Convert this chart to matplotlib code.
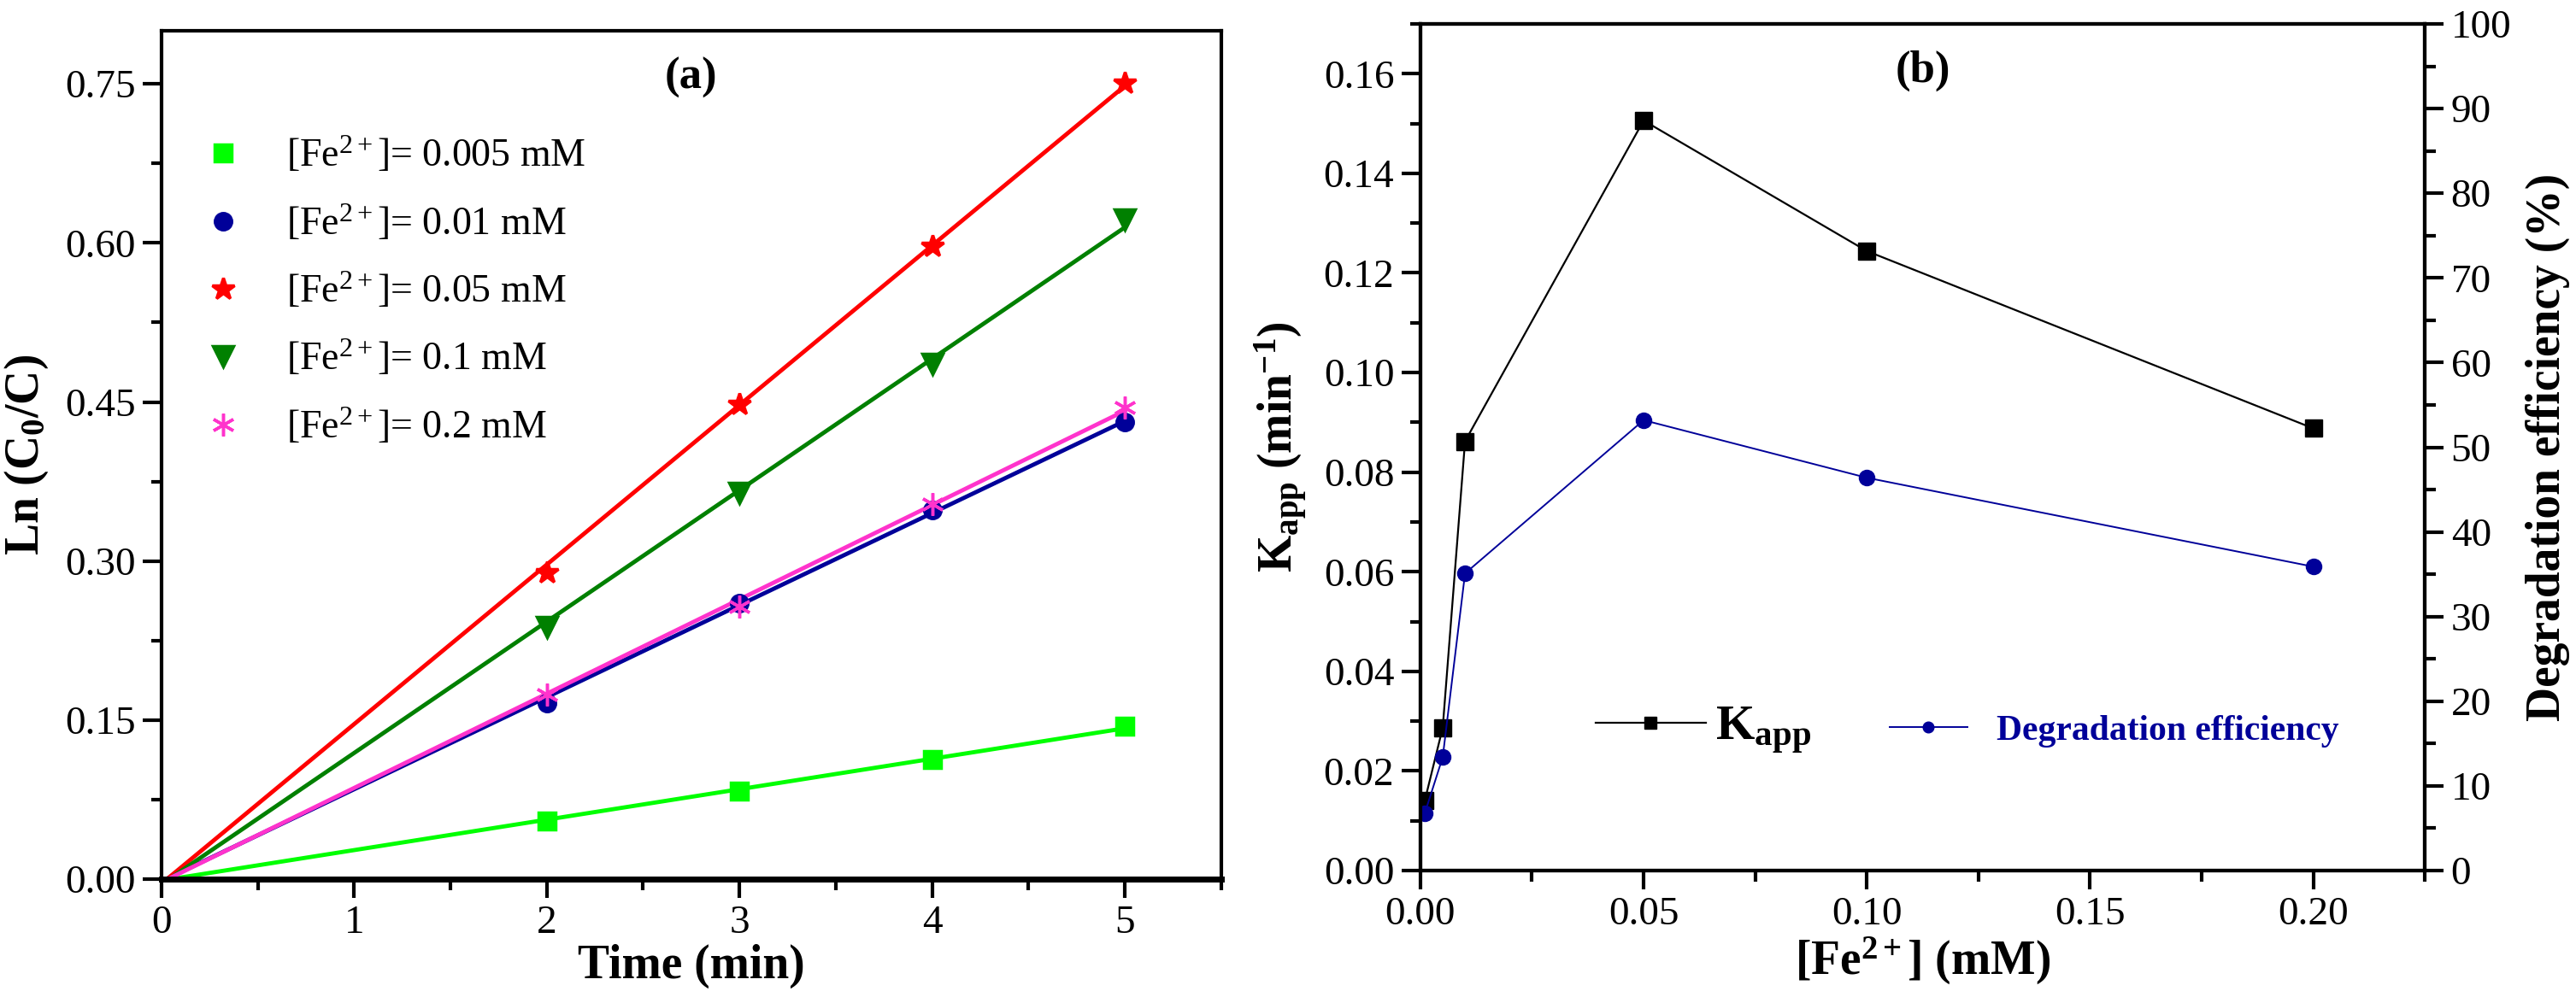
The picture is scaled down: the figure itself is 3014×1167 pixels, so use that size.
import numpy as np
import matplotlib
matplotlib.use('Agg')
from matplotlib import pyplot as plt
from matplotlib.ticker import MultipleLocator, FormatStrFormatter

plt.rcParams['font.family'] = ['Liberation Serif', 'DejaVu Serif']
plt.rcParams['mathtext.fontset'] = 'custom'
plt.rcParams['mathtext.rm'] = 'Liberation Serif'
plt.rcParams['mathtext.it'] = 'Liberation Serif:italic'
plt.rcParams['mathtext.bf'] = 'Liberation Serif:bold'

# ---------------------------------------------------------------- data (a)
time_min = [0, 2, 3, 4, 5]
fe_labels = ['0.005', '0.01', '0.05', '0.1', '0.2']
ln_005 = [0, 0.055, 0.083, 0.113, 0.144]
ln_01 = [0, 0.166, 0.260, 0.348, 0.431]
ln_05 = [0, 0.289, 0.448, 0.597, 0.751]
ln_1 = [0, 0.238, 0.364, 0.486, 0.622]
ln_2 = [0, 0.174, 0.257, 0.354, 0.445]

# ---------------------------------------------------------------- data (b)
fe_conc = [0.001, 0.005, 0.01, 0.05, 0.1, 0.2]
k_app = [0.0141, 0.0287, 0.0862, 0.1506, 0.1244, 0.0888]
deg_eff = [6.8, 13.4, 35.1, 53.2, 46.4, 35.9]

series = [ln_005, ln_01, ln_05, ln_1, ln_2]
colors = ['#00ff00', '#000099', '#ff0000', '#008000', '#ff33cc']
markers = ['s', 'o', '*', 'v', (6, 2, 0)]
msizes = [14, 14, 19, 17, 19]

fig = plt.figure(figsize=(30.14, 11.67), dpi=100)

# ------------------------------------------------------------------ panel a
ax = fig.add_axes([0.0627, 0.1183, 0.4113, 0.8507])
t = np.array(time_min, dtype=float)
for i in range(len(series)):
    y = np.array(series[i])
    p = np.polyfit(t, y, 1)
    ax.plot(t, np.polyval(p, t), color=colors[i], lw=3.5, zorder=2)
    ax.plot(t[1:], y[1:], ls='none', marker=markers[i], ms=msizes[i],
            color=colors[i], mew=2.5, zorder=3,
            label=r'[Fe$^{\mathrm{2+}}$]= ' + fe_labels[i] + ' mM')

ax.set_xlim(0, 5.5)
ax.set_ylim(0, 0.8)
ax.xaxis.set_major_locator(MultipleLocator(1))
ax.xaxis.set_minor_locator(MultipleLocator(0.5))
ax.yaxis.set_major_locator(MultipleLocator(0.15))
ax.yaxis.set_minor_locator(MultipleLocator(0.075))
ax.yaxis.set_major_formatter(FormatStrFormatter('%.2f'))
ax.set_xlabel('Time (min)', fontsize=40, fontweight='bold', labelpad=2)
ax.set_ylabel(r'Ln (C$_\mathbf{0}$/C)', fontsize=40, fontweight='bold', labelpad=12)
ax.text(0.5, 0.945, '(a)', transform=ax.transAxes, fontsize=38,
        fontweight='bold', ha='center', va='center')
leg = ax.legend(loc='upper left', bbox_to_anchor=(-0.012, 0.918), frameon=False,
                fontsize=33, handletextpad=0.6, labelspacing=0.72,
                markerscale=1.0)

# ------------------------------------------------------------------ panel b
bx = fig.add_axes([0.5514, 0.1268, 0.3899, 0.8492])
bx.plot(fe_conc, k_app, color='black', lw=1.6, marker='s', ms=15,
        label=r'K$_{\mathbf{app}}$')
bx.set_xlim(0, 0.225)
bx.set_ylim(0, 0.17)
bx.xaxis.set_major_locator(MultipleLocator(0.05))
bx.xaxis.set_minor_locator(MultipleLocator(0.025))
bx.yaxis.set_major_locator(MultipleLocator(0.02))
bx.yaxis.set_minor_locator(MultipleLocator(0.01))
bx.xaxis.set_major_formatter(FormatStrFormatter('%.2f'))
bx.yaxis.set_major_formatter(FormatStrFormatter('%.2f'))
bx.set_xlabel(r'[Fe$^{\mathbf{2+}}$] (mM)', fontsize=40, fontweight='bold', labelpad=2)
bx.set_ylabel(r'K$_{\mathbf{app}}$ (min$^{\mathbf{-1}}$)', fontsize=40,
              fontweight='bold', labelpad=12)
bx.text(0.5, 0.945, '(b)', transform=bx.transAxes, fontsize=38,
        fontweight='bold', ha='center', va='center')

bx2 = bx.twinx()
bx2.set_position(bx.get_position())
bx2.plot(fe_conc, deg_eff, color='#000099', lw=1.4, marker='o', ms=13,
         label='Degradation efficiency')
bx2.set_ylim(0, 100)
bx2.yaxis.set_major_locator(MultipleLocator(10))
bx2.yaxis.set_minor_locator(MultipleLocator(5))
bx2.set_ylabel('Degradation efficiency (%)', fontsize=40, fontweight='bold',
               labelpad=12)

l1 = bx.legend(loc='center left', bbox_to_anchor=(0.13, 0.165), frameon=False,
               fontsize=42, handlelength=2.2, handletextpad=0.2, markerscale=0.7)
for txt in l1.get_texts():
    txt.set_fontweight('bold')
l2 = bx2.legend(loc='center left', bbox_to_anchor=(0.435, 0.165), frameon=False,
                fontsize=30, handlelength=2.2, handletextpad=0.8, markerscale=0.7)
for txt in l2.get_texts():
    txt.set_color('#000099')
    txt.set_fontweight('bold')

for a in [ax, bx, bx2]:
    for s in a.spines.values():
        s.set_linewidth(3)
    a.tick_params(which='major', direction='out', length=16, width=3,
                  labelsize=34, pad=6)
    a.tick_params(which='minor', direction='out', length=9, width=3)
ax.spines['bottom'].set_linewidth(5)

fig.savefig('out.png', dpi=100)
